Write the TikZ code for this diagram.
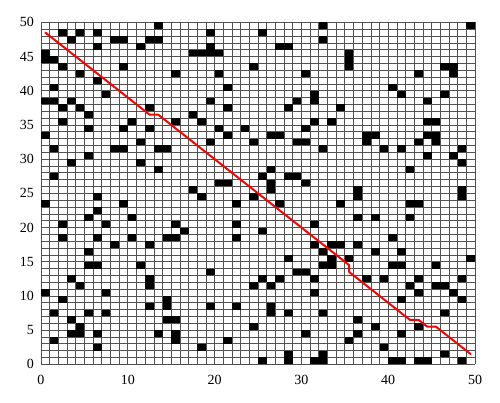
\documentclass[tikz,border=0pt]{standalone}
\usepackage{fontspec}
\setmainfont{Liberation Serif}
\usetikzlibrary{calc}

\tikzset{
  gridline/.style={draw=black!68,line width=0.6pt},
  obstacle/.style={fill=black},
  route/.style={draw=red,line width=2pt,line join=round,line cap=round},
  ticklabel/.style={inner sep=0pt,font=\fontsize{14}{16}\selectfont}
}

\begin{document}
\begin{tikzpicture}[x=8.68pt,y=6.84pt]
\useasboundingbox (-4.72,-5.51) rectangle (52.88,53.26);
% cells
\foreach \i in {0,...,50} {
  \draw[gridline] (\i,0) -- (\i,50);
  \draw[gridline] (0,\i) -- (50,\i);
}
% obstacles, row by row
\foreach \r/\cols in {
  49/{13,32,49}, 48/{2,4,6,19,25}, 47/{3,8,9,12,13,32}, 46/{6,11,19,27,28},
  45/{0,17,18,19,20,35}, 44/{0,1,35}, 43/{2,9,24,35,46,47}, 42/{4,15,20,30,43,47},
  41/{6}, 40/{1,21,40}, 39/{7,31,41,46}, 38/{0,1,3,19,29,31,44},
  37/{2,4,12,21,28,34}, 36/{5,17}, 35/{2,10,15,18,31,33,44,45}, 34/{5,9,12,20,23,30},
  33/{0,21,26,27,37,38,44,45}, 32/{11,19,24,29,30,37,43,45}, 31/{1,8,9,13,14,32,39,41,48},
  30/{5,44,47}, 29/{3,11,48}, 28/{13,26,42}, 27/{1,25,28,29}, 26/{20,21,26,30},
  25/{17,26,36,48}, 24/{6,18,24,36,48}, 23/{0,9,22,27,34,42,43}, 22/{6},
  21/{5,10,36,38,42}, 20/{2,7,15,22,31}, 19/{16,25}, 18/{2,6,10,14,15,22,40},
  17/{8,12,31,33,34,36}, 16/{5,32,38,41}, 15/{28,33,35,49}, 14/{5,6,11,32,33,40,41,45},
  13/{19,29,30}, 12/{3,12,25,27,31,37,39,43,48}, 11/{4,12,24,26,42,45,46},
  10/{0,7,31,43,47}, 9/{2,14,41,48}, 8/{12,14,19,22,26}, 7/{1,5,7,26,28,32,46},
  6/{3,14,15,36}, 5/{4,24,38,43}, 4/{3,4,6,13,15,30,36,41}, 3/{1,15,21,35},
  2/{6,18,39}, 1/{28,32,46}, 0/{25,28,31,32,40,41,43,44,48}} {
  \foreach \c in \cols
    \fill[obstacle] (\c,\r) rectangle ++(1,1);
}
% axis labels
\foreach \v in {0,10,...,50}
  \node[ticklabel] (xl\v) at (\v,-2.3) {\v};
\foreach \v in {0,5,...,50}
  \node[ticklabel,anchor=east] (yl\v) at (-0.8,\v) {\v};
% planned path
\draw[route] (0.5,48.5) -- (12.5,36.5) -- (13.5,36.5) -- (35.5,14.5) -- (35.5,13.5)
  -- (42.5,6.5) -- (43.5,6.5) -- (44.5,5.5) -- (45.5,5.5) -- (49.5,1.5);
\end{tikzpicture}
\end{document}
